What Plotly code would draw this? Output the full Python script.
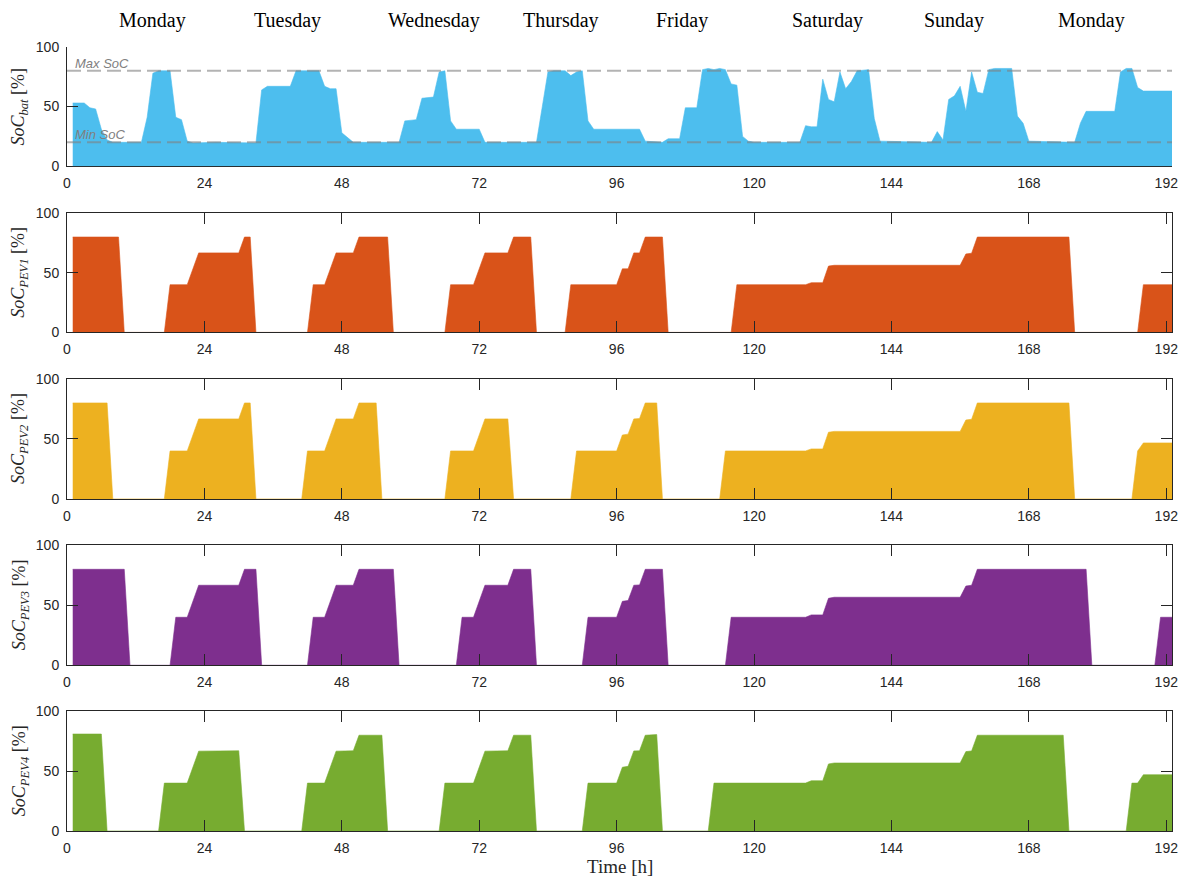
import plotly.graph_objects as go
from plotly.subplots import make_subplots

# battery state of charge, breakpoints (hour, %)
bat_hours = [1, 3, 4, 5, 6, 7, 8, 13, 14, 15, 16, 18, 19, 20, 21, 22, 26, 30, 33,
             34, 35, 39, 40, 44, 45, 46, 47, 48, 50, 58, 59, 61, 62, 64, 65, 66, 67, 68, 72, 73,
             82, 84, 85, 87, 88, 89, 90, 91, 92, 100, 101, 104, 105, 107, 108, 110,
             111, 112, 113, 114, 115, 116, 117, 118, 119, 120, 128, 129, 130, 131, 132, 133,
             134, 135, 136, 137, 138, 140, 141, 142, 151, 152, 153, 154, 155, 156, 157, 158,
             159, 160, 161, 162, 165, 166, 167, 168, 176, 177, 178, 183, 184, 185, 186, 187,
             188, 193]
bat_soc = [53, 53, 49, 48, 31, 22, 20, 20, 41, 78, 80, 80, 41, 39, 21, 19.5, 20, 19.5, 19.5,
           64, 67, 67, 80, 80, 67, 65, 65, 28, 20, 20, 38, 39, 57, 58, 79, 80, 38, 31, 31, 20,
           20, 79, 80, 80, 76, 79, 80, 38, 31, 31, 21, 20, 23, 23, 49, 49,
           81, 82, 81, 82, 81, 69, 68, 25, 21, 20, 20, 34, 33, 33, 73, 56,
           54, 79, 65, 71, 80, 81, 40, 21, 20, 29, 22, 56, 59, 67, 46, 79,
           62, 61, 81, 82, 82, 42, 36, 21, 20, 36, 46, 46, 79, 82, 82, 66,
           63, 63]

pev1_hours = [1, 9, 10, 17, 18, 21, 23, 30, 31, 32, 33, 42, 43, 45, 47, 50, 51, 56, 57,
              66, 67, 71, 73, 77, 78, 81, 82, 87, 88, 96, 97, 98, 99, 100, 101, 104, 105,
              116, 117, 129, 130, 132, 133, 134, 156, 157, 158, 159, 175, 176, 187, 188, 193]
pev1_soc = [80, 80, 0, 0, 40, 40, 66.7, 66.7, 80, 80, 0, 0, 40, 40, 66.7, 66.7, 80, 80, 0,
            0, 40, 40, 66.7, 66.7, 80, 80, 0, 0, 40, 40, 53.3, 53.3, 66.7, 66.7, 80, 80, 0,
            0, 40, 40, 41.7, 41.7, 55.6, 56.3, 56.3, 65.8, 66.4, 80, 80, 0, 0, 40, 40]

pev2_hours = [1, 7, 8, 17, 18, 21, 23, 30, 31, 32, 33, 41, 42, 45, 47, 50, 51, 54, 55,
              66, 67, 71, 73, 77, 78, 88, 89, 96, 97, 98, 99, 100, 101, 103, 104,
              114, 115, 129, 130, 132, 133, 134, 156, 157, 158, 159, 175, 176, 186, 187, 188, 193]
pev2_soc = [80, 80, 0, 0, 40, 40, 66.7, 66.7, 80, 80, 0, 0, 40, 40, 66.7, 66.7, 80, 80, 0,
            0, 40, 40, 66.7, 66.7, 0, 0, 40, 40, 53.3, 54, 66.7, 67, 80, 80, 0,
            0, 40, 40, 41.7, 41.7, 55.6, 56.3, 56.3, 65.8, 66.4, 80, 80, 0, 0, 40, 46.7, 46.7]

pev3_hours = [1, 10, 11, 18, 19, 21, 23, 30, 31, 33, 34, 42, 43, 45, 47, 50, 51, 57, 58,
              68, 69, 71, 73, 77, 78, 81, 82, 90, 91, 96, 97, 98, 99, 100, 101, 104, 105,
              115, 116, 129, 130, 132, 133, 134, 156, 157, 158, 159, 178, 179, 190, 191, 193]
pev3_soc = [80, 80, 0, 0, 40, 40, 66.7, 66.7, 80, 80, 0, 0, 40, 40, 66.7, 66.7, 80, 80, 0,
            0, 40, 40, 66.7, 66.7, 80, 80, 0, 0, 40, 40, 53.3, 54, 66.7, 67, 80, 80, 0,
            0, 40, 40, 42, 42, 55.8, 56.7, 56.7, 66, 66.7, 80, 80, 0, 0, 40, 40]

pev4_hours = [1, 6, 7, 16, 17, 21, 23, 30, 31, 41, 42, 45, 47, 50, 51, 55, 56,
              65, 66, 71, 73, 77, 78, 81, 82, 90, 91, 96, 97, 98, 99, 100, 101, 103, 104,
              112, 113, 129, 130, 132, 133, 134, 156, 157, 158, 159, 174, 175, 185, 186, 187,
              188, 193]
pev4_soc = [81, 81, 0, 0, 40, 40, 66.7, 67, 0, 0, 40, 40, 66.7, 67, 80, 80, 0,
            0, 40, 40, 66.7, 67, 80, 80, 0, 0, 40, 40, 53.3, 54, 66.9, 67, 80, 80.5, 0,
            0, 40, 40, 42, 42, 56, 56.8, 56.8, 66.3, 66.9, 80, 80, 0, 0, 40, 40,
            47, 47]

soc_max = 80
soc_min = 20

days = ["Monday", "Tuesday", "Wednesday", "Thursday", "Friday", "Saturday", "Sunday", "Monday"]
day_centers = [14.9, 38.5, 64.1, 86.3, 107.4, 132.9, 155, 178.9]

x_ticks = [0, 24, 48, 72, 96, 120, 144, 168, 192]
y_ticks = [0, 50, 100]

series = [
    (bat_hours, bat_soc, "#4DBEEE", "bat"),
    (pev1_hours, pev1_soc, "#D95319", "PEV1"),
    (pev2_hours, pev2_soc, "#EDB120", "PEV2"),
    (pev3_hours, pev3_soc, "#7E2F8E", "PEV3"),
    (pev4_hours, pev4_soc, "#77AC30", "PEV4"),
]

domains = [[0.848, 1.0], [0.636, 0.788], [0.4235, 0.5766], [0.2114, 0.3644], [0.0, 0.1527]]

fig = make_subplots(rows=5, cols=1)

for i, (hx, hy, col, sub) in enumerate(series):
    fig.add_trace(go.Scatter(
        x=hx, y=hy, mode="lines", fill="tozeroy",
        line=dict(color=col, width=0.6), fillcolor=col,
        showlegend=False, hoverinfo="skip"
    ), row=i + 1, col=1)

axis_font = dict(family="Liberation Sans, Arial", size=14, color="#262626")

for i in range(5):
    first = i == 0
    fig.update_xaxes(
        range=[0, 193], tickvals=x_ticks, ticks="inside", ticklen=11, tickcolor="#262626",
        showline=True, linecolor="#262626", linewidth=1,
        mirror=False if first else "ticks", showgrid=False, zeroline=False,
        tickfont=axis_font, ticklabelstandoff=4,
        layer="below traces" if first else "above traces",
        row=i + 1, col=1)
    fig.update_yaxes(
        range=[0, 100], tickvals=y_ticks, ticks="inside", ticklen=11, tickcolor="#262626",
        showline=True, linecolor="#262626", linewidth=1,
        mirror=False if first else "ticks", showgrid=False, zeroline=False,
        tickfont=axis_font, ticklabelstandoff=4, domain=domains[i],
        row=i + 1, col=1)

# SoC limits on the battery panel
for lvl, label in [(soc_max, "Max SoC"), (soc_min, "Min SoC")]:
    fig.add_shape(type="line", xref="x", yref="y", x0=0, x1=193, y0=lvl, y1=lvl,
                  line=dict(color="rgba(128,128,128,0.6)", width=2, dash="14px,6px"))
    fig.add_annotation(x=1, y=lvl, xref="x", yref="y", text="<i>" + label + "</i>",
                       showarrow=False, xanchor="left", yanchor="bottom", yshift=-2,
                       font=dict(family="Liberation Sans, Arial", size=13, color="#808080"))

# day names on top
for name, xc in zip(days, day_centers):
    fig.add_annotation(x=xc, y=1.034, xref="x", yref="paper", text=name, showarrow=False,
                       yanchor="middle",
                       font=dict(family="Liberation Serif, serif", size=20, color="#000000"))

# y titles
for i, (_, _, _, sub) in enumerate(series):
    yc = (domains[i][0] + domains[i][1]) / 2
    fig.add_annotation(x=-0.0425, y=yc, xref="paper", yref="paper",
                       text="<i>SoC</i><sub><i>" + sub + "</i></sub> [%]",
                       textangle=-90, showarrow=False, xanchor="center", yanchor="middle",
                       font=dict(family="Liberation Serif, serif", size=18, color="#262626"))

fig.add_annotation(x=0.5, y=-0.045, xref="paper", yref="paper", text="Time [h]",
                   showarrow=False, yanchor="middle",
                   font=dict(family="Liberation Serif, serif", size=19, color="#262626"))

# page body has an 8px margin, so the figure is drawn 8px smaller
fig.update_layout(
    width=1182, height=871,
    margin=dict(l=59, r=16, t=39, b=48),
    paper_bgcolor="white", plot_bgcolor="white",
    showlegend=False,
)

fig.write_html("out.html")
